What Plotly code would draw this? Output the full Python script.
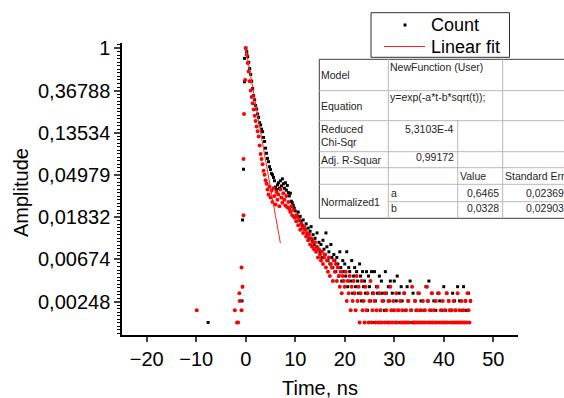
import math
import plotly.graph_objects as go

# ---------------- data ----------------
N_MAX = 1980          # peak count used for normalisation
T_STEP = 0.2          # ns, sampling of the decay trace
T_START = 0.0

# Count (black) - counts on the 0.2 ns grid starting at t = 0
BLACK_COUNTS = [
    1980, 1830, 1620, 1420, 1225, 1065, 910, 765, 646, 585,
    512, 470, 418, 385, 340, 322, 292, 275, 240, 218,
    186, 165, 146, 135, 120, 112, 102, 99, 93, 86,
    74, 70, 78, 82, 72, 86, 76, 90, 80, 72,
    82, 69, 77, 65, 60, 64, 53, 51, 48, 45,
    42, 38, 37, 41, 34, 37, 33, 30, 34, 28,
    27, 31, 24, 28, 22, 26, 29, 21, 24, 19,
    22, 18, 25, 17, 20, 16, 19, 14, 21, 17,
    15, 25, 18, 13, 16, 12, 19, 14, 11, 15,
    13, 10, 14, 12, 9, 16, 11, 8, 13, 10,
    12, 9, 16, 7, 11, 10, 8, 13, 6, 9,
    11, 7, 10, 8, 6, 12, 9, 5, 10, 7,
    8, 6, 10, 4, 9, 7, 5, 10, 6, 3,
    10, 5, 7, 6, 3, 9, 4, 8, 6, 5,
    4, 10, 6, 3, 7, 5, 8, 3, 6, 4,
    8, 3, 5, 9, 4, 6, 3, 7, 5, 3,
    6, 4, 3, 7, 5, 3, 8, 4, 3, 6,
    3, 5, 4, 3, 6, 3, 4, 5, 3, 2,
    4, 3, 7, 3, 5, 8, 3, 4, 6, 3,
    5, 3, 4, 2, 6, 3, 5, 3, 4, 3,
    7, 3, 4, 6, 3, 5, 2, 3, 4, 6,
    3, 5, 4, 3, 7, 3, 5, 2, 3, 4,
    7, 3, 5, 4, 3, 6, 3, 5,
]
# isolated black points before the main trace
BLACK_PRE_T = [-7.6, -0.75, -0.65, -0.65, -0.45, -0.25, -0.25]
BLACK_PRE_N = [3, 5, 7, 34, 113, 896, 1560]

# second data set (red points) on the same grid
RED_COUNTS = [
    1990, 1700, 1400, 1140, 910, 730, 625, 540, 465, 400,
    355, 310, 278, 245, 198, 162, 144, 127, 109, 99,
    87, 80, 70, 62, 75, 58, 68, 52, 72, 60,
    49, 66, 55, 62, 47, 70, 58, 51, 64, 55,
    48, 60, 46, 52, 44, 41, 47, 38, 43, 36,
    36, 33, 38, 30, 34, 27, 31, 28, 25, 29,
    27, 23, 25, 21, 24, 19, 22, 18, 20, 17,
    20, 16, 18, 14, 17, 15, 13, 16, 12, 14,
    15, 11, 13, 10, 14, 9, 12, 11, 8, 13,
    10, 12, 8, 11, 9, 7, 10, 6, 9, 8,
    7, 10, 5, 8, 6, 9, 4, 7, 5, 8,
    6, 4, 9, 5, 7, 3, 6, 8, 4, 5,
    3, 7, 4, 6, 3, 5, 8, 3, 4, 6,
    5, 3, 4, 7, 3, 6, 4, 3, 5, 2,
    3, 6, 4, 3, 5, 3, 7, 4, 3, 5,
    4, 3, 6, 3, 4, 2, 5, 3, 4, 3,
    6, 3, 4, 3, 5, 3, 2, 4, 7, 3,
    3, 5, 3, 4, 3, 6, 3, 4, 3, 5,
    3, 4, 3, 7, 5, 3, 4, 3, 6, 3,
    4, 3, 5, 3, 2, 6, 3, 4, 3, 5,
    3, 4, 3, 6, 3, 5, 4, 3, 4, 3,
    5, 3, 4, 3, 6, 3, 4, 3, 5, 3,
    4, 3, 5, 3, 6, 4, 3, 5,
]
RED_PRE_T = [-9.9, -2.2, -1.75, -1.55, -1.3, -1.2, -0.85, -0.85, -0.65, -0.45, -0.45, -0.35, -0.1]
RED_PRE_N = [4, 4, 3, 3, 6, 5, 4, 11, 7, 38, 144, 418, 935]

# fit curve y = exp(-a*t - b*sqrt(t)), a = 0.6465, b = 0.0328
FIT_T = [0, 1, 2, 3, 4, 5, 6, 7]
FIT_Y = [1.0, 0.507, 0.262, 0.1358, 0.0705, 0.0367, 0.01908, 0.00993]

Y_TICKVALS = [1, 0.36788, 0.13534, 0.04979, 0.01832, 0.00674, 0.00248]
Y_TICKTEXT = ["1", "0,36788", "0,13534", "0,04979", "0,01832", "0,00674", "0,00248"]
X_TICKVALS = [-20, -10, 0, 10, 20, 30, 40, 50]

LEGEND_NAMES = ["Count", "Linear fit"]

TABLE_LABELS = ["Model", "Equation", "Reduced", "Chi-Sqr", "Adj. R-Squar", "Normalized1"]
TABLE_MODEL = "NewFunction (User)"
TABLE_EQUATION = "y=exp(-a*t-b*sqrt(t));"
TABLE_CHI = "5,3103E-4"
TABLE_R2 = "0,99172"
TABLE_HEAD = ["Value", "Standard Err"]
TABLE_PARAMS = ["a", "b"]
TABLE_VALUES = ["0,6465", "0,0328"]
TABLE_ERRORS = ["0,02369", "0,02903"]

# ---------------- build ----------------
def grid(counts):
    return [round(T_START + T_STEP * i, 1) for i in range(len(counts))]

bx = BLACK_PRE_T + grid(BLACK_COUNTS)
by = [n / N_MAX for n in BLACK_PRE_N + BLACK_COUNTS]
rx = RED_PRE_T + grid(RED_COUNTS)
ry = [n / N_MAX for n in RED_PRE_N + RED_COUNTS]

FONT = "Arial, 'Liberation Sans', sans-serif"

fig = go.Figure()
fig.add_trace(go.Scatter(x=bx, y=by, mode="markers", name=LEGEND_NAMES[0], showlegend=False,
                         marker=dict(symbol="square", size=3, color="black", line=dict(width=0))))
fig.add_trace(go.Scatter(x=rx, y=ry, mode="markers", name="Normalized1", showlegend=False,
                         marker=dict(symbol="circle", size=4, color="#ff0000", line=dict(width=0))))
fig.add_trace(go.Scatter(x=FIT_T, y=FIT_Y, mode="lines", name=LEGEND_NAMES[1], showlegend=False,
                         line=dict(color="#ff2020", width=1)))

L, R, T, B = 122, 46, 43, 63
W, H = 564, 398
PW, PH = W - L - R, H - T - B

def px(x):
    return (x - L) / PW

def py(y):
    return (H - B - y) / PH

minor_vals = [math.exp(-k / 12) for k in range(-1, 83) if k % 12 != 0]

fig.update_layout(
    width=W, height=H,
    margin=dict(l=L, r=R, t=T, b=B, pad=0),
    paper_bgcolor="white", plot_bgcolor="white",
    font=dict(family=FONT, color="black"),
    showlegend=False,
    xaxis=dict(range=[-25, 55], tickvals=X_TICKVALS, ticks="outside", ticklen=5,
               tickwidth=1.5, showline=True, linecolor="black", linewidth=1.5,
               showgrid=False, zeroline=False, tickfont=dict(size=20)),
    yaxis=dict(type="log", range=[-2.9484, 0.0545], tickvals=Y_TICKVALS, ticktext=Y_TICKTEXT,
               ticks="outside", ticklen=6, tickwidth=1.5, showline=True,
               linecolor="black", linewidth=1.5, showgrid=False, zeroline=False,
               tickfont=dict(size=20),
               minor=dict(tickmode="array", tickvals=minor_vals, ticks="outside",
                          ticklen=3, tickwidth=1, tickcolor="black", showgrid=False)),
)

ann = []
ann.append(dict(text="Amplitude", x=px(21), y=py(193), textangle=-90,
                font=dict(size=20)))
ann.append(dict(text="Time, ns", x=px(320), y=py(388), font=dict(size=20)))

shapes = []

# ---- legend box (drawn by hand to match the reference geometry) ----
shapes.append(dict(type="rect", x0=px(371), x1=px(509.5), y0=py(57.3), y1=py(12.7),
                   xref="paper", yref="paper", fillcolor="white",
                   line=dict(color="#303030", width=1), layer="above"))
shapes.append(dict(type="rect", x0=px(403.5), x1=px(406.5), y0=py(26.5), y1=py(23.5),
                   xref="paper", yref="paper", fillcolor="black",
                   line=dict(width=0), layer="above"))
shapes.append(dict(type="line", x0=px(384), x1=px(425), y0=py(46.5), y1=py(46.5),
                   xref="paper", yref="paper", line=dict(color="#ff2020", width=1),
                   layer="above"))
ann.append(dict(text=LEGEND_NAMES[0], x=px(430.5), y=py(25), xanchor="left",
                font=dict(size=18), borderpad=0, borderwidth=0))
ann.append(dict(text=LEGEND_NAMES[1], x=px(430.5), y=py(46.5), xanchor="left",
                font=dict(size=18), borderpad=0, borderwidth=0))

# ---- fit report table ----
TL, TT, TB, TR = 319.3, 59.3, 218.3, 640
C1, C2, C3 = 388.3, 457.7, 502.7
RY = [90.7, 120.7, 151.7, 167.7, 184.3, 201.7]
shapes.append(dict(type="rect", x0=px(TL), x1=px(TR), y0=py(TB), y1=py(TT),
                   xref="paper", yref="paper", fillcolor="white",
                   line=dict(color="#3c3c3c", width=1), layer="above"))
inner = dict(color="#b8b8b8", width=1)
def hline(y, x0, x1):
    shapes.append(dict(type="line", x0=px(x0), x1=px(x1), y0=py(y), y1=py(y),
                       xref="paper", yref="paper", line=inner, layer="above"))
def vline(x, y0, y1):
    shapes.append(dict(type="line", x0=px(x), x1=px(x), y0=py(y0), y1=py(y1),
                       xref="paper", yref="paper", line=inner, layer="above"))
for yy in RY[:5]:
    hline(yy, TL, TR)
hline(RY[5], C1, TR)
vline(C1, TT, TB)
vline(C2, RY[1], TB)
vline(C3, TT, TB)

TF = dict(size=10.5, color="#1e1e1e", family=FONT)
def cell(text, x, y, anchor="left"):
    ann.append(dict(text=text, x=px(x), y=py(y), xanchor=anchor, yanchor="middle",
                    font=TF, borderpad=0, borderwidth=0))
cell(TABLE_LABELS[0], 321, 75)
cell(TABLE_MODEL, 390, 66.5)
cell(TABLE_LABELS[1], 321, 106)
cell(TABLE_EQUATION, 390, 97)
cell(TABLE_LABELS[2], 321, 128.5)
cell(TABLE_LABELS[3], 321, 142)
cell(TABLE_CHI, 454, 128.5, "right")
cell(TABLE_LABELS[4], 321, 159.5)
cell(TABLE_R2, 454, 157, "right")
cell(TABLE_HEAD[0], 460, 175.5)
cell(TABLE_HEAD[1], 505, 175.5)
cell(TABLE_LABELS[5], 321, 201.5)
cell(TABLE_PARAMS[0], 391, 193)
cell(TABLE_PARAMS[1], 391, 208)
cell(TABLE_VALUES[0], 499, 193, "right")
cell(TABLE_VALUES[1], 499, 208, "right")
cell(TABLE_ERRORS[0], 525.5, 193)
cell(TABLE_ERRORS[1], 525.5, 208)

for a in ann:
    a.setdefault("xref", "paper")
    a.setdefault("yref", "paper")
    a.setdefault("showarrow", False)
    a.setdefault("xanchor", "center")
    a.setdefault("yanchor", "middle")
fig.update_layout(annotations=ann, shapes=shapes)

fig.write_html("out.html")
